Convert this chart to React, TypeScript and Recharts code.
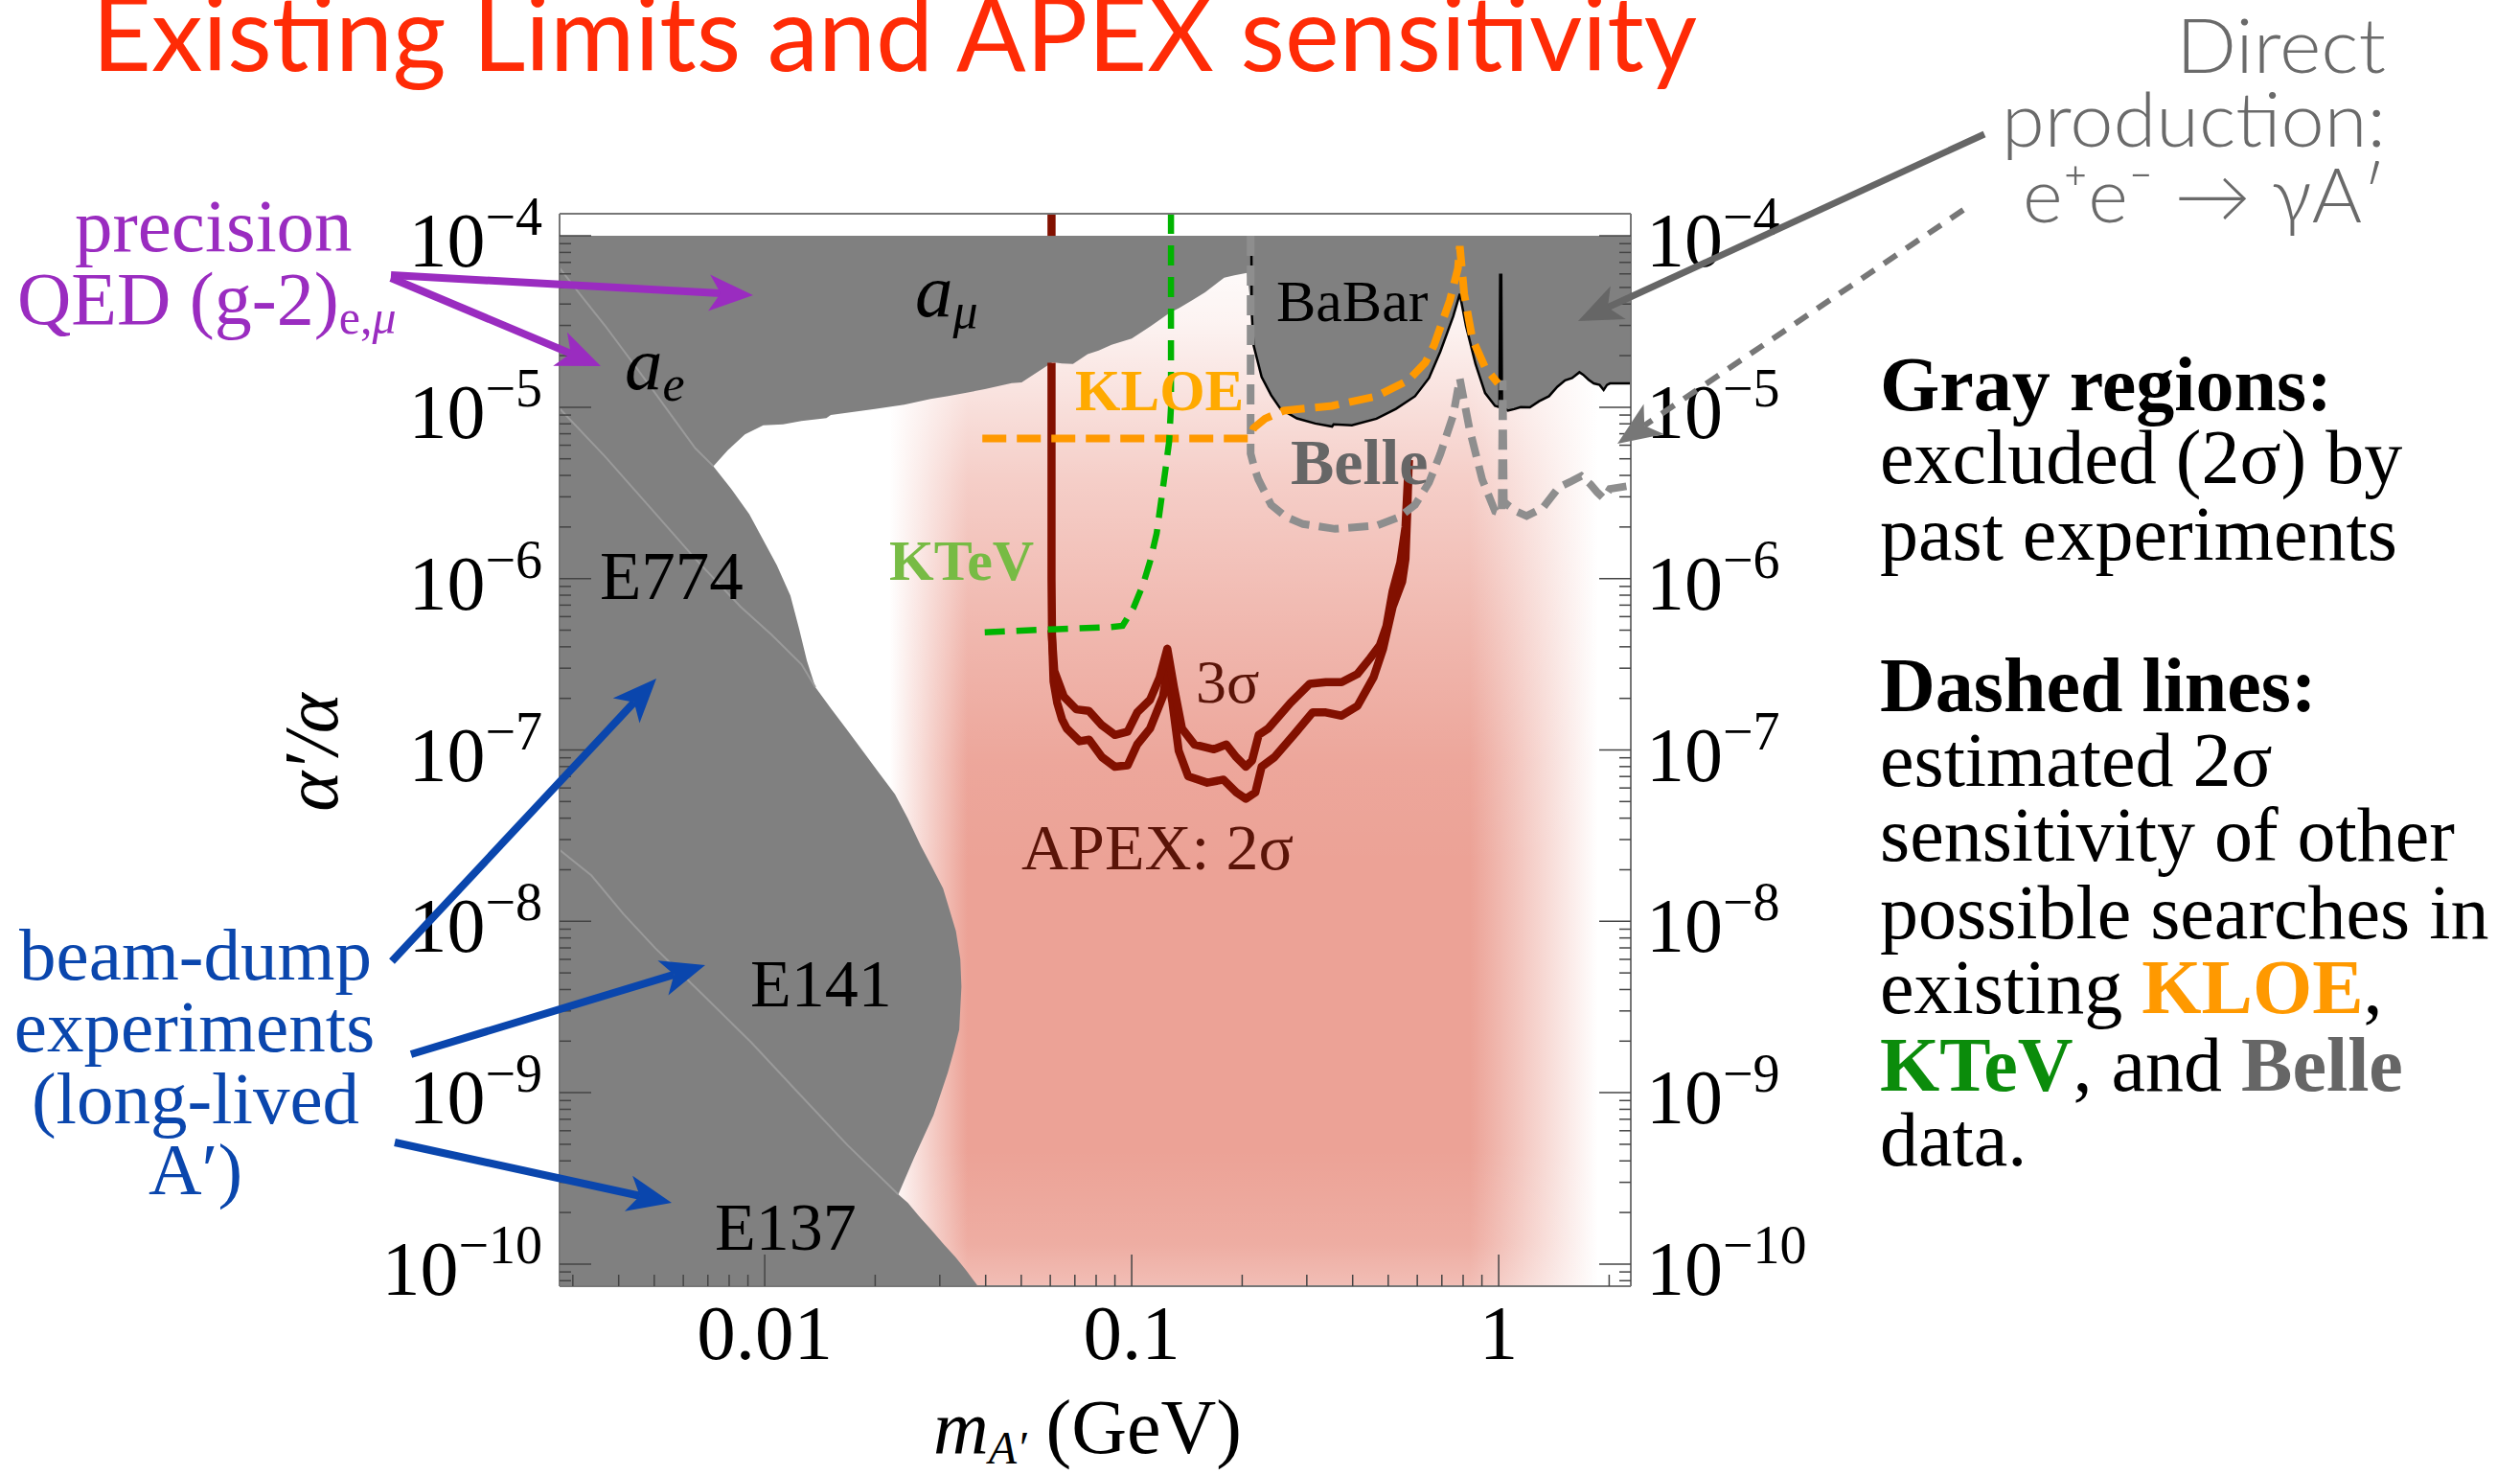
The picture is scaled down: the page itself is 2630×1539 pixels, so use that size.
import React from 'react';
import { ComposedChart, Area, Line, XAxis, YAxis } from 'recharts';

// all curves: [log10(m_A' / GeV), log10(alpha'/alpha)]
const aMuEdge = [
  [-2.559, -5.344], [-2.14, -5.344], [-2.1, -5.25], [-2.054, -5.158], [-2.004, -5.106],
  [-1.95, -5.1], [-1.9, -5.08], [-1.832, -5.064], [-1.82, -5.045], [-1.7, -5.01],
  [-1.62, -4.985], [-1.548, -4.952], [-1.5, -4.935], [-1.45, -4.915], [-1.4, -4.895],
  [-1.327, -4.86], [-1.3, -4.855], [-1.26, -4.8], [-1.216, -4.738], [-1.19, -4.745],
  [-1.16, -4.748], [-1.12, -4.69], [-1.09, -4.67], [-1.055, -4.636], [-1.0, -4.6],
  [-0.95, -4.53], [-0.896, -4.449], [-0.87, -4.42], [-0.834, -4.375], [-0.8, -4.33],
  [-0.748, -4.244], [-0.72, -4.23], [-0.686, -4.216],
];

const babarEdge = [
  [-0.674, -4.0], [-0.673, -4.45], [-0.668, -4.638], [-0.646, -4.824], [-0.62, -4.93],
  [-0.594, -5.011], [-0.55, -5.065], [-0.5, -5.095], [-0.454, -5.113], [-0.45, -5.1],
  [-0.4, -5.105], [-0.333, -5.067], [-0.28, -5.01], [-0.228, -4.936], [-0.19, -4.83],
  [-0.159, -4.675], [-0.124, -4.47], [-0.106, -4.339], [-0.089, -4.526], [-0.063, -4.749],
  [-0.037, -4.917], [-0.01, -4.992], [0.002, -5.0], [0.004, -4.228], [0.007, -4.228],
  [0.009, -5.0], [0.025, -5.02], [0.042, -5.011], [0.06, -5.0], [0.085, -5.001],
  [0.11, -4.965], [0.137, -4.936], [0.16, -4.88], [0.181, -4.843], [0.2, -4.83],
  [0.22, -4.796], [0.23, -4.81], [0.245, -4.84], [0.259, -4.861], [0.275, -4.87],
  [0.286, -4.899], [0.295, -4.87], [0.303, -4.861], [0.361, -4.861],
];

const beamDumpEdge = [
  [-2.559, -4.0], [-2.14, -5.344], [-2.09, -5.48], [-2.042, -5.624], [-1.967, -5.922],
  [-1.93, -6.1], [-1.906, -6.295], [-1.885, -6.48], [-1.862, -6.634], [-1.819, -6.759],
  [-1.78, -6.87], [-1.732, -7.008], [-1.69, -7.13], [-1.645, -7.258], [-1.61, -7.4],
  [-1.575, -7.558], [-1.545, -7.68], [-1.514, -7.808], [-1.479, -8.057], [-1.467, -8.22],
  [-1.464, -8.382], [-1.47, -8.632], [-1.485, -8.76], [-1.501, -8.882], [-1.54, -9.131],
  [-1.593, -9.38], [-1.636, -9.593], [-1.61, -9.643], [-1.58, -9.72], [-1.55, -9.79],
  [-1.514, -9.88], [-1.48, -9.96], [-1.45, -10.04], [-1.419, -10.129],
];

const faintA = [[-2.559, -4.188], [-2.5, -4.35], [-2.435, -4.524], [-2.312, -4.878], [-2.189, -5.24], [-2.14, -5.344]];
const faintB = [[-2.559, -5.008], [-2.435, -5.288], [-2.312, -5.586], [-2.189, -5.885], [-2.066, -6.164], [-1.98, -6.33], [-1.9, -6.5], [-1.862, -6.634]];
const faintC = [[-2.559, -7.583], [-2.472, -7.733], [-2.385, -7.957], [-2.298, -8.157], [-2.167, -8.432], [-2.037, -8.706], [-1.906, -9.006], [-1.775, -9.305], [-1.636, -9.593]];

const apexStub = [[-1.2185, -3.871], [-1.2185, -4.0]];
const apex2Sigma = [
  [-1.2185, -4.74], [-1.2185, -6.0], [-1.217, -6.35], [-1.213, -6.6], [-1.203, -6.725],
  [-1.19, -6.82], [-1.177, -6.875], [-1.142, -6.949], [-1.116, -6.94], [-1.081, -7.042],
  [-1.046, -7.098], [-1.011, -7.089], [-0.985, -6.968], [-0.95, -6.875], [-0.915, -6.688],
  [-0.903, -6.539], [-0.889, -6.725], [-0.872, -7.004], [-0.846, -7.154], [-0.794, -7.191],
  [-0.75, -7.173], [-0.715, -7.247], [-0.689, -7.285], [-0.663, -7.247], [-0.646, -7.098],
  [-0.611, -7.042], [-0.551, -6.893], [-0.507, -6.781], [-0.471, -6.781], [-0.428, -6.8],
  [-0.385, -6.744], [-0.341, -6.576], [-0.315, -6.409], [-0.289, -6.166], [-0.263, -6.017],
  [-0.254, -5.885], [-0.249, -5.6], [-0.245, -5.309],
];
const apex3Sigma = [
  [-1.2185, -6.3], [-1.211, -6.539], [-1.185, -6.688], [-1.151, -6.763], [-1.117, -6.772],
  [-1.081, -6.856], [-1.046, -6.912], [-1.011, -6.893], [-0.985, -6.781], [-0.95, -6.707],
  [-0.924, -6.577], [-0.903, -6.409], [-0.885, -6.632], [-0.863, -6.875], [-0.829, -6.968],
  [-0.776, -6.996], [-0.742, -6.968], [-0.715, -7.042], [-0.689, -7.098], [-0.672, -7.061],
  [-0.654, -6.912], [-0.628, -6.875], [-0.567, -6.725], [-0.515, -6.614], [-0.471, -6.604],
  [-0.428, -6.604], [-0.385, -6.557], [-0.35, -6.464], [-0.324, -6.39], [-0.306, -6.278],
  [-0.289, -6.073], [-0.268, -5.906], [-0.254, -5.7], [-0.245, -5.309],
];
const apexReach = [[-1.66, -4.0], [0.27, -4.0]];

const ktev = [
  [-0.893, -3.871], [-0.893, -5.0], [-0.898, -5.2], [-0.908, -5.363], [-0.92, -5.55],
  [-0.932, -5.736], [-0.95, -5.9], [-0.969, -6.034], [-0.995, -6.17], [-1.025, -6.276],
  [-1.06, -6.283], [-1.204, -6.295], [-1.407, -6.314],
];
const kloe = [
  [-1.407, -5.182], [-0.679, -5.182], [-0.668, -5.122], [-0.637, -5.067], [-0.585, -5.02],
  [-0.454, -4.992], [-0.333, -4.936], [-0.246, -4.843], [-0.2, -4.74], [-0.176, -4.638],
  [-0.133, -4.376], [-0.111, -4.19], [-0.106, -4.06], [-0.094, -4.339], [-0.072, -4.6],
  [-0.037, -4.768], [-0.002, -4.861],
];
const belle = [
  [-0.676, -4.0], [-0.676, -5.27], [-0.665, -5.36], [-0.655, -5.421], [-0.62, -5.57],
  [-0.58, -5.64], [-0.533, -5.682], [-0.446, -5.71], [-0.333, -5.691], [-0.27, -5.64],
  [-0.228, -5.57], [-0.19, -5.44], [-0.159, -5.272], [-0.124, -5.048], [-0.106, -4.833],
  [-0.08, -5.123], [-0.045, -5.421], [-0.01, -5.607], [0.008, -5.62], [0.011, -4.843],
  [0.014, -5.55], [0.024, -5.57], [0.05, -5.61], [0.076, -5.635], [0.12, -5.588],
  [0.164, -5.467], [0.2, -5.43], [0.225, -5.402], [0.25, -5.45], [0.268, -5.495],
  [0.286, -5.532], [0.303, -5.477], [0.361, -5.457],
];

const xDecades = [-3, -2, -1, 0];
const yDecades = [-11, -10, -9, -8, -7, -6, -5, -4];
const X_DOMAIN = [10 ** -2.559, 10 ** 0.36];
const Y_DOMAIN = [10 ** -10.129, 10 ** -3.871];

const toPts = (arr) => arr.map(([lm, la]) => ({ x: 10 ** lm, y: 10 ** la }));
const logTicks = (decades, [lo, hi]) =>
  decades.flatMap((d) => [1, 2, 3, 4, 5, 6, 7, 8, 9].map((k) => k * 10 ** d)).filter((v) => v >= lo && v <= hi);

const xTicks = logTicks(xDecades, X_DOMAIN);
const yTicks = logTicks(yDecades, Y_DOMAIN);

const SERIF = "'Liberation Serif', 'Times New Roman', serif";
const SANS = "Lato, 'Open Sans', sans-serif";
const TICK_COLOR = '#444';
const FRAME = { stroke: '#777', strokeWidth: 2 };

const isMajor = (v) => Math.abs(Math.log10(v) - Math.round(Math.log10(v))) < 1e-6;
const fmtX = (v) => String(Number(v.toPrecision(1)));
const expo = (v) => '\u2212' + Math.abs(Math.round(Math.log10(v)));

function AxisTick({ x, y, payload, side }) {
  const v = payload.value;
  const major = isMajor(v);
  const len = major ? 33 : 12;
  if (side === 'bottom' || side === 'top') {
    const dir = side === 'bottom' ? -1 : 1;
    return (
      <g>
        <line x1={x} x2={x} y1={y} y2={y + dir * len} stroke={TICK_COLOR} strokeWidth={1.5} />
        {major && (
          <text x={x} y={side === 'bottom' ? y + 76 : y - 30} textAnchor="middle" fontFamily={SERIF} fontSize={81} fill="#000">
            {fmtX(v)}
          </text>
        )}
      </g>
    );
  }
  const dir = side === 'left' ? 1 : -1;
  return (
    <g>
      <line x1={x} x2={x + dir * len} y1={y} y2={y} stroke={TICK_COLOR} strokeWidth={1.5} />
      {major && (
        <text
          x={side === 'left' ? x - 18 : x + 16}
          y={y + 32}
          textAnchor={side === 'left' ? 'end' : 'start'}
          fontFamily={SERIF}
          fontSize={80}
          fill="#000"
        >
          10
          <tspan dy={-33} fontSize={56}>{expo(v)}</tspan>
        </text>
      )}
    </g>
  );
}

function Arrow({ from, to, color, width, dash }) {
  const [x1, y1] = from;
  const [x2, y2] = to;
  const len = Math.hypot(x2 - x1, y2 - y1);
  const ux = (x2 - x1) / len;
  const uy = (y2 - y1) / len;
  const head = 46;
  const half = 19;
  const bx = x2 - ux * head;
  const by = y2 - uy * head;
  const px = -uy;
  const py = ux;
  return (
    <g>
      <line x1={x1} y1={y1} x2={bx + ux * 12} y2={by + uy * 12} stroke={color} strokeWidth={width} strokeDasharray={dash} />
      <polygon
        points={`${x2},${y2} ${bx + px * half},${by + py * half} ${bx + ux * 12},${by + uy * 12} ${bx - px * half},${by - py * half}`}
        fill={color}
      />
    </g>
  );
}

const topGray = toPts([...aMuEdge, ...babarEdge.slice(1)]);

export default function App() {
  const common = { xAxisId: 'b', yAxisId: 'l', isAnimationActive: false };
  const lineCommon = { ...common, dataKey: 'y', dot: false, activeDot: false, type: 'linear' };
  return (
    <div style={{ position: 'absolute', left: 0, top: 0, width: 2630, height: 1539, background: '#fff' }}>
      <svg width={0} height={0} style={{ position: 'absolute' }}>
        <defs>
          <linearGradient id="pinkH" x1="0" y1="0" x2="1" y2="0">
            <stop offset="0" stopColor="#eca296" stopOpacity={0} />
            <stop offset="0.05" stopColor="#eca296" stopOpacity={0.45} />
            <stop offset="0.11" stopColor="#eca296" stopOpacity={1} />
            <stop offset="0.82" stopColor="#eca296" stopOpacity={1} />
            <stop offset="0.9" stopColor="#eca296" stopOpacity={0.55} />
            <stop offset="1" stopColor="#eca296" stopOpacity={0} />
          </linearGradient>
          <linearGradient id="whiteV" x1="0" y1="0" x2="0" y2="1">
            <stop offset="0" stopColor="#fff" stopOpacity={1} />
            <stop offset="0.08" stopColor="#fff" stopOpacity={0.88} />
            <stop offset="0.14" stopColor="#fff" stopOpacity={0.72} />
            <stop offset="0.23" stopColor="#fff" stopOpacity={0.48} />
            <stop offset="0.37" stopColor="#fff" stopOpacity={0.24} />
            <stop offset="0.5" stopColor="#fff" stopOpacity={0.05} />
            <stop offset="0.6" stopColor="#fff" stopOpacity={0} />
            <stop offset="0.87" stopColor="#fff" stopOpacity={0} />
            <stop offset="0.96" stopColor="#fff" stopOpacity={0.12} />
            <stop offset="1" stopColor="#fff" stopOpacity={0.3} />
          </linearGradient>
        </defs>
      </svg>

      <ComposedChart width={2630} height={1539} margin={{ top: 193, right: 868, bottom: 167, left: 524 }}>
        <XAxis
          xAxisId="b"
          dataKey="x"
          type="number"
          scale="log"
          domain={X_DOMAIN}
          allowDataOverflow
          ticks={xTicks}
          interval={0}
          height={30}
          tickSize={0}
          tickMargin={0}
          tickLine={false}
          axisLine={FRAME}
          tick={(p) => <AxisTick {...p} side="bottom" />}
        />
        <XAxis
          xAxisId="t"
          orientation="top"
          type="number"
          scale="log"
          domain={X_DOMAIN}
          allowDataOverflow
          ticks={xTicks}
          interval={0}
          height={30}
          tickSize={0}
          tickMargin={0}
          tickLine={false}
          axisLine={FRAME}
          tick={(p) => <AxisTick {...p} side="top" />}
        />
        <YAxis
          yAxisId="l"
          type="number"
          scale="log"
          domain={Y_DOMAIN}
          allowDataOverflow
          ticks={yTicks}
          interval={0}
          width={60}
          tickSize={0}
          tickMargin={0}
          tickLine={false}
          axisLine={FRAME}
          tick={(p) => <AxisTick {...p} side="left" />}
        />
        <YAxis
          yAxisId="r"
          orientation="right"
          type="number"
          scale="log"
          domain={Y_DOMAIN}
          allowDataOverflow
          ticks={yTicks}
          interval={0}
          width={60}
          tickSize={0}
          tickMargin={0}
          tickLine={false}
          axisLine={FRAME}
          tick={(p) => <AxisTick {...p} side="right" />}
        />

        {/* APEX reach (pink glow) */}
        <Area {...common} data={toPts(apexReach)} dataKey="y" type="linear" baseValue="dataMin" stroke="none" fill="url(#pinkH)" fillOpacity={1} />
        <Area {...common} data={toPts(apexReach)} dataKey="y" type="linear" baseValue="dataMin" stroke="none" fill="url(#whiteV)" fillOpacity={1} />

        {/* excluded regions */}
        <Area {...common} data={topGray} dataKey="y" type="linear" baseValue={1e-4} stroke="none" fill="#808080" fillOpacity={1} />
        <Area {...common} data={toPts(beamDumpEdge)} dataKey="y" type="linear" baseValue="dataMin" stroke="none" fill="#808080" fillOpacity={1} />

        <Line {...lineCommon} data={toPts(faintA)} stroke="#9a9a9a" strokeWidth={2} />
        <Line {...lineCommon} data={toPts(faintB)} stroke="#9a9a9a" strokeWidth={2} />
        <Line {...lineCommon} data={toPts(faintC)} stroke="#9a9a9a" strokeWidth={2} />
        <Line {...lineCommon} data={toPts(babarEdge)} stroke="#000" strokeWidth={2.5} />

        {/* APEX */}
        <Line {...lineCommon} data={toPts(apexStub)} stroke="#821000" strokeWidth={8.5} />
        <Line {...lineCommon} data={toPts(apex2Sigma)} stroke="#821000" strokeWidth={8.5} strokeLinejoin="round" />
        <Line {...lineCommon} data={toPts(apex3Sigma)} stroke="#821000" strokeWidth={8.5} strokeLinejoin="round" />

        {/* other searches */}
        <Line {...lineCommon} data={toPts(belle)} stroke="#8e8e8e" strokeWidth={8} strokeDasharray="21 10" />
        <Line {...lineCommon} data={toPts(kloe)} stroke="#ff9900" strokeWidth={8} strokeDasharray="25 11" />
        <Line {...lineCommon} data={toPts(ktev)} stroke="#00b400" strokeWidth={6.5} strokeDasharray="21 12" />
      </ComposedChart>

      <svg width={2630} height={1539} style={{ position: 'absolute', left: 0, top: 0, pointerEvents: 'none' }}>
        <text x={96} y={74} fontFamily={SANS} fontSize={108} fill="#ff2b06" textLength={1675} lengthAdjust="spacingAndGlyphs">
          Existing Limits and APEX sensitivity
        </text>

        <g fontFamily={SANS} fontSize={78} fill="#6a6a6a" fontWeight={300} textAnchor="end">
          <text x={2490} y={76} textLength={219} lengthAdjust="spacingAndGlyphs">Direct</text>
          <text x={2490} y={153} textLength={401} lengthAdjust="spacingAndGlyphs">production:</text>
          <text x={2490} y={232} textLength={379} lengthAdjust="spacingAndGlyphs">e⁺e⁻ → γA′</text>
        </g>
        <Arrow from={[2071, 140]} to={[1647, 335]} color="#666" width={7} />
        <Arrow from={[2049, 219]} to={[1688, 463]} color="#777" width={6} dash="16 12" />

        <g fontFamily={SERIF} fill="#9a2cc0">
          <text x={78} y={262} fontSize={79}>precision</text>
          <text x={18} y={338} fontSize={78}>
            QED (g-2)<tspan fontSize={50} dy={10}>e,</tspan><tspan fontSize={50} fontStyle="italic">μ</tspan>
          </text>
        </g>
        <Arrow from={[408, 287]} to={[786, 308]} color="#9a2cc0" width={8} />
        <Arrow from={[408, 290]} to={[627, 382]} color="#9a2cc0" width={8} />

        <g fontFamily={SERIF} fill="#0a46ad" fontSize={77} textAnchor="middle">
          <text x={204} y={1022}>beam-dump</text>
          <text x={203} y={1097}>experiments</text>
          <text x={204} y={1172}>(long-lived</text>
          <text x={204} y={1246}>A′)</text>
        </g>
        <Arrow from={[409, 1003]} to={[685, 708]} color="#0a46ad" width={8} />
        <Arrow from={[429, 1100]} to={[736, 1007]} color="#0a46ad" width={8} />
        <Arrow from={[412, 1192]} to={[701, 1255]} color="#0a46ad" width={8} />

        <text transform="translate(352,785) rotate(-90)" textAnchor="middle" fontFamily={SERIF} fontStyle="italic" fontSize={80}>
          α′/α
        </text>
        <text x={974} y={1516} fontFamily={SERIF} fontSize={80}>
          <tspan fontStyle="italic">m</tspan>
          <tspan fontStyle="italic" fontSize={48} dy={11}>A′</tspan>
          <tspan dy={-11}> (GeV)</tspan>
        </text>

        <g fontFamily={SERIF} fill="#000">
          <text x={955} y={330} fontSize={79} fontStyle="italic">a<tspan fontSize={52} dy={12}>μ</tspan></text>
          <text x={652} y={406} fontSize={79} fontStyle="italic">a<tspan fontSize={52} dy={12}>e</tspan></text>
          <text x={626} y={625} fontSize={71}>E774</text>
          <text x={783} y={1050} fontSize={70}>E141</text>
          <text x={746} y={1304} fontSize={70}>E137</text>
          <text x={1332} y={335} fontSize={62}>BaBar</text>
        </g>
        <g fontFamily={SERIF} fontWeight="bold">
          <text x={1347} y={505} fontSize={68} fill="#666">Belle</text>
          <text x={1122} y={428} fontSize={61} fill="#ffaa00">KLOE</text>
          <text x={928} y={605} fontSize={60} fill="#77bb44">KTeV</text>
        </g>
        <g fontFamily={SERIF} fill="#5a1408">
          <text x={1248} y={733} fontSize={64}>3σ</text>
          <text x={1066} y={907} fontSize={68}>APEX: 2σ</text>
        </g>

        <g fontFamily={SERIF} fontSize={80} fill="#000">
          <text x={1962} y={428} fontWeight="bold">Gray regions:</text>
          <text x={1962} y={504}>excluded (2σ) by</text>
          <text x={1962} y={584}>past experiments</text>
          <text x={1962} y={742} fontWeight="bold">Dashed lines:</text>
          <text x={1962} y={820}>estimated 2σ</text>
          <text x={1962} y={898}>sensitivity of other</text>
          <text x={1962} y={979}>possible searches in</text>
          <text x={1962} y={1057}>
            existing <tspan fontWeight="bold" fill="#ff9900">KLOE</tspan>,
          </text>
          <text x={1962} y={1138}>
            <tspan fontWeight="bold" fill="#0b8c0b">KTeV</tspan>, and <tspan fontWeight="bold" fill="#666">Belle</tspan>
          </text>
          <text x={1962} y={1216}>data.</text>
        </g>
      </svg>
    </div>
  );
}
